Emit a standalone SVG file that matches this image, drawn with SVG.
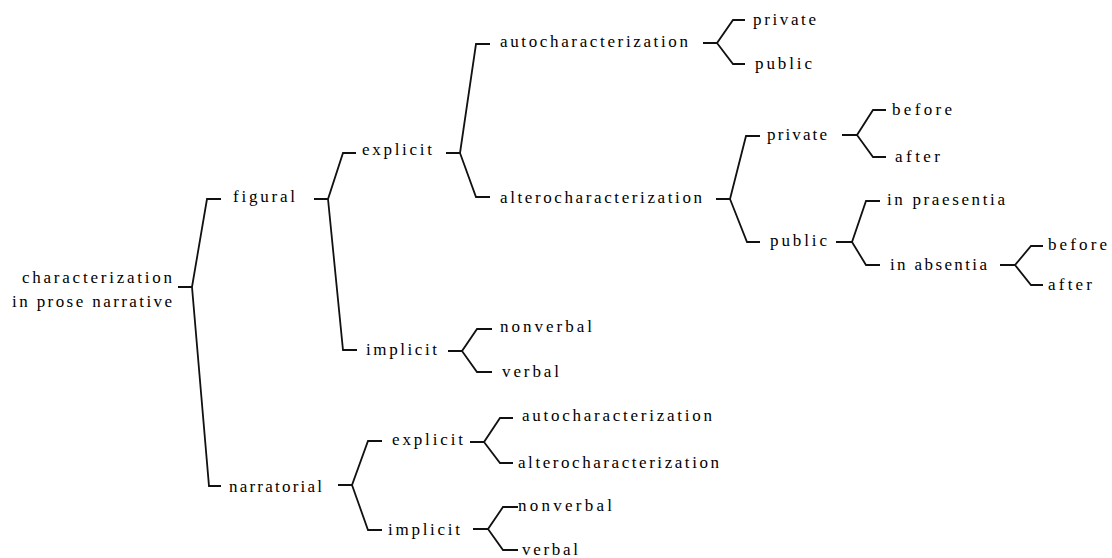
<svg xmlns="http://www.w3.org/2000/svg" width="1112" height="558" viewBox="0 0 1112 558">
<style>
text{font-family:"Liberation Serif","Times New Roman",serif;font-size:17px;fill:#000}
.c path{fill:none;stroke:#111;stroke-width:1.8}
</style>
<rect width="1112" height="558" fill="#fff"/>
<g class="c" id="connectors">
<path d="M178,287H192L207,199H221M192,287L209,486H221"/>
<path d="M314,199H328L343,153H356M328,199L343,350H357"/>
<path d="M446,153H460L476,44H490M460,153L476,197H490"/>
<path d="M703,43H717L733,20H745M717,43L733,64H745"/>
<path d="M716,199H730L746,136H760M730,199L747,242H760"/>
<path d="M842,135H857L873,110H886M857,135L873,157H886"/>
<path d="M836,242H852L866,201H880M852,242L866,265H880"/>
<path d="M1000,265H1015L1031,246H1043M1015,265L1031,285H1043"/>
<path d="M448,351H462L477,329H492M462,351L477,372H492"/>
<path d="M338,485H352L368,441H382M352,485L368,530H382"/>
<path d="M470,442H484L500,418H513M484,442L500,463H513"/>
<path d="M473,529H488L503,507H518M488,529L503,550H518"/>
</g>
<g id="n-root"><text x="22" y="283" textLength="150" lengthAdjust="spacing">characterization</text><text x="12" y="307" textLength="160" lengthAdjust="spacing">in prose narrative</text></g>
<g id="n-figural"><text x="233" y="202" textLength="62" lengthAdjust="spacing">figural</text></g>
<g id="n-fig-explicit"><text x="362" y="155" textLength="70" lengthAdjust="spacing">explicit</text></g>
<g id="n-fig-auto"><text x="500" y="47" textLength="188" lengthAdjust="spacing">autocharacterization</text></g>
<g id="n-fig-altero"><text x="500" y="203" textLength="202" lengthAdjust="spacing">alterocharacterization</text></g>
<g id="n-auto-private"><text x="753" y="25" textLength="63" lengthAdjust="spacing">private</text></g>
<g id="n-auto-public"><text x="755" y="69" textLength="57" lengthAdjust="spacing">public</text></g>
<g id="n-alt-private"><text x="767" y="140" textLength="60" lengthAdjust="spacing">private</text></g>
<g id="n-alt-priv-before"><text x="892" y="115" textLength="60" lengthAdjust="spacing">before</text></g>
<g id="n-alt-priv-after"><text x="895" y="162" textLength="45" lengthAdjust="spacing">after</text></g>
<g id="n-alt-public"><text x="770" y="246" textLength="57" lengthAdjust="spacing">public</text></g>
<g id="n-praesentia"><text x="887" y="205" textLength="118" lengthAdjust="spacing">in praesentia</text></g>
<g id="n-absentia"><text x="890" y="270" textLength="97" lengthAdjust="spacing">in absentia</text></g>
<g id="n-abs-before"><text x="1048" y="250" textLength="59" lengthAdjust="spacing">before</text></g>
<g id="n-abs-after"><text x="1048" y="290" textLength="44" lengthAdjust="spacing">after</text></g>
<g id="n-fig-implicit"><text x="366" y="355" textLength="71" lengthAdjust="spacing">implicit</text></g>
<g id="n-fig-nonverbal"><text x="500" y="332" textLength="92" lengthAdjust="spacing">nonverbal</text></g>
<g id="n-fig-verbal"><text x="502" y="377" textLength="57" lengthAdjust="spacing">verbal</text></g>
<g id="n-narratorial"><text x="229" y="492" textLength="93" lengthAdjust="spacing">narratorial</text></g>
<g id="n-nar-explicit"><text x="392" y="445" textLength="71" lengthAdjust="spacing">explicit</text></g>
<g id="n-nar-auto"><text x="522" y="421" textLength="190" lengthAdjust="spacing">autocharacterization</text></g>
<g id="n-nar-altero"><text x="518" y="468" textLength="201" lengthAdjust="spacing">alterocharacterization</text></g>
<g id="n-nar-implicit"><text x="388" y="535" textLength="72" lengthAdjust="spacing">implicit</text></g>
<g id="n-nar-nonverbal"><text x="518" y="511" textLength="94" lengthAdjust="spacing">nonverbal</text></g>
<g id="n-nar-verbal"><text x="522" y="555" textLength="56" lengthAdjust="spacing">verbal</text></g>
</svg>
